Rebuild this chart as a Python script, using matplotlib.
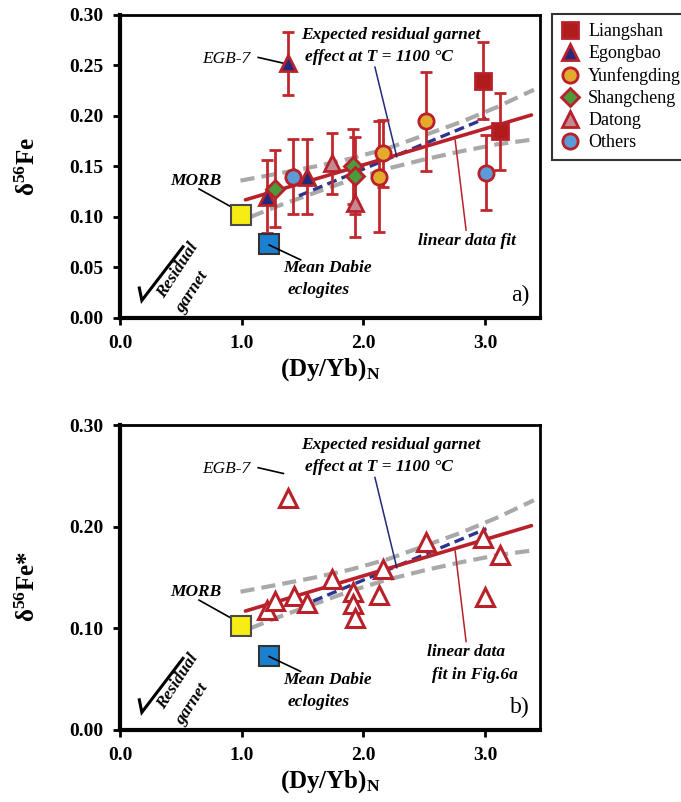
import numpy as np
import matplotlib
matplotlib.use('Agg')
import matplotlib.pyplot as plt
from matplotlib.lines import Line2D

plt.rcParams['font.family'] = ['Liberation Serif', 'DejaVu Serif']
plt.rcParams['mathtext.fontset'] = 'custom'
plt.rcParams['mathtext.rm'] = 'Liberation Serif'
plt.rcParams['mathtext.bf'] = 'Liberation Serif:bold'
plt.rcParams['mathtext.it'] = 'Liberation Serif:italic'

# --- data ---
# panel a: (Dy/Yb)N, d56Fe, 2SD
liang_x = [2.98, 3.12]
liang_y = [0.235, 0.185]
liang_e = [0.038, 0.038]
egong_x = [1.38, 1.21, 1.54]
egong_y = [0.252, 0.120, 0.140]
egong_e = [0.031, 0.036, 0.037]
yunf_x = [2.16, 2.13, 2.51]
yunf_y = [0.163, 0.140, 0.195]
yunf_e = [0.033, 0.055, 0.049]
shang_x = [1.27, 1.91, 1.93]
shang_y = [0.128, 0.150, 0.141]
shang_e = [0.038, 0.037, 0.038]
datong_x = [1.74, 1.93]
datong_y = [0.153, 0.114]
datong_e = [0.030, 0.034]
others_x = [1.42, 3.01]
others_y = [0.140, 0.144]
others_e = [0.037, 0.037]

# panel b: d56Fe* (corrected)
b_x = [1.38, 1.21, 1.27, 1.43, 1.54, 1.74, 1.91, 1.91, 1.93, 2.13, 2.16, 2.51, 2.98, 3.12, 3.00]
b_y = [0.228, 0.118, 0.127, 0.132, 0.125, 0.149, 0.136, 0.124, 0.110, 0.133, 0.158, 0.185, 0.189, 0.172, 0.131]

morb_x = [0.99]
morb_y = [0.102]
dabie_x = [1.22]
dabie_y = [0.073]

# linear fit and its confidence band
fit_x = [1.03, 3.38]
fit_y = [0.117, 0.201]
up_x = [0.99, 1.3, 1.6, 1.9, 2.2, 2.5, 2.8, 3.1, 3.40]
up_y = [0.136, 0.143, 0.150, 0.158, 0.168, 0.181, 0.194, 0.209, 0.226]
lo_x = [1.07, 1.3, 1.6, 1.9, 2.2, 2.5, 2.8, 3.1, 3.41]
lo_y = [0.100, 0.111, 0.124, 0.137, 0.148, 0.157, 0.165, 0.172, 0.177]
# expected residual garnet effect
garnet_x = [1.47, 3.01]
garnet_y = [0.121, 0.198]

RED = '#b8202a'
EBAR = '#c0282e'

fig = plt.figure(figsize=(6.81, 8.02), dpi=100)
W, H = 681., 802.
ax1 = fig.add_axes([120 / W, (H - 318) / H, 420 / W, 303 / H])
ax2 = fig.add_axes([120 / W, (H - 730) / H, 420 / W, 305 / H])


def common(ax, yticks, ylabel, tag, fit_label, lab_y):
    ax.plot(up_x, up_y, color='#a9a9a9', lw=3, dashes=(3.4, 1.7), zorder=2)
    ax.plot(lo_x, lo_y, color='#a9a9a9', lw=3, dashes=(3.4, 1.7), zorder=2)
    ax.plot(garnet_x, garnet_y, color='#2b3590', lw=2.4, dashes=(3, 1.6), zorder=2.5)
    ax.plot(fit_x, fit_y, color=RED, lw=2.6, solid_capstyle='round', zorder=3)
    ax.plot(morb_x, morb_y, 's', ms=15, mfc='#f7ec13', mec='#4a4a4a', mew=1.5, zorder=6)
    ax.plot(dabie_x, dabie_y, 's', ms=15, mfc='#1a80d0', mec='#333333', mew=1.5, zorder=6)

    ax.set_xlim(0, 3.45)
    ax.set_ylim(0, 0.30)
    ax.set_xticks([0, 1, 2, 3])
    ax.set_xticklabels(['0.0', '1.0', '2.0', '3.0'])
    ax.set_yticks(yticks)
    ax.set_yticklabels(['%.2f' % v for v in yticks])
    for s in ['left', 'bottom']:
        ax.spines[s].set_linewidth(3.0)
    for s in ['top', 'right']:
        ax.spines[s].set_linewidth(2.0)
    ax.tick_params(direction='out', length=5, width=2, labelsize=14, pad=7)
    for t in ax.get_xticklabels() + ax.get_yticklabels():
        t.set_fontweight('bold')
    ax.set_xlabel('(Dy/Yb)$_{\\mathbf{N}}$', fontsize=18, fontweight='bold')
    ax.xaxis.set_label_coords(0.5, -0.125)
    ax.set_ylabel(ylabel, fontsize=18, fontweight='bold')
    ax.yaxis.set_label_coords(-0.19, lab_y)

    bi = dict(fontsize=12.5, fontweight='bold', style='italic')
    # leader lines are drawn in axes fraction
    tr = ax.transAxes
    ax.text(0.431, 0.934, 'Expected residual garnet', ha='left', va='center', transform=tr, **bi)
    ax.text(0.441, 0.861, 'effect at T = 1100 \u00b0C', ha='left', va='center', transform=tr, **bi)
    ax.plot([0.607, 0.659], [0.828, 0.532], color='#1f2a7a', lw=1.1, transform=tr, zorder=4)
    ax.text(0.181, 0.452, 'MORB', ha='center', va='center', transform=tr, **bi)
    ax.plot([0.188, 0.280], [0.426, 0.355], color='k', lw=1.2, transform=tr, zorder=4)
    ax.text(0.495, 0.165, 'Mean Dabie', ha='center', va='center', transform=tr, **bi)
    ax.text(0.474, 0.092, 'eclogites', ha='center', va='center', transform=tr, **bi)
    ax.plot([0.355, 0.430], [0.241, 0.192], color='k', lw=1.2, transform=tr, zorder=7)
    for txt, (x, y) in zip(fit_label, [(0.825, 0.255), (0.845, 0.180)]):
        ax.text(x, y, txt, ha='center', va='center', transform=tr, **bi)
    ax.plot([0.798, 0.824], [0.587, 0.290], color=RED, lw=1.1, transform=tr, zorder=4)
    ax.text(0.31, 0.855, 'EGB-7', ha='right', va='center', fontsize=12.5,
            style='italic', transform=tr)
    ax.plot([0.329, 0.389], [0.860, 0.841], color='k', lw=1.2, transform=tr, zorder=4)

    # residual garnet arrow
    ax.plot([0.046, 0.052, 0.150], [0.099, 0.058, 0.235], color='k', lw=2.2,
            solid_joinstyle='miter', transform=tr, zorder=4)
    ax.text(0.138, 0.158, 'Residual', rotation=57, ha='center', va='center',
            transform=tr, **bi)
    ax.text(0.171, 0.086, 'garnet', rotation=57, ha='center', va='center',
            transform=tr, **bi)
    ax.text(0.952, 0.075, tag, ha='center', va='center', fontsize=17, transform=tr)


common(ax1, [0, 0.05, 0.10, 0.15, 0.20, 0.25, 0.30],
       '\u03b4$^{\\mathbf{56}}$Fe', 'a)', ['linear data fit'], 0.5)
common(ax2, [0, 0.10, 0.20, 0.30],
       '\u03b4$^{\\mathbf{56}}$Fe*', 'b)', ['linear data', 'fit in Fig.6a'], 0.47)

# panel a symbols with error bars
groups = [
    (liang_x, liang_y, liang_e, 's', 11, '#b01c1c', 'Liangshan'),
    (egong_x, egong_y, egong_e, '^', 11, '#232a7e', 'Egongbao'),
    (yunf_x, yunf_y, yunf_e, 'o', 11, '#e3aa2e', 'Yunfengding'),
    (shang_x, shang_y, shang_e, 'D', 9, '#4c9a3c', 'Shangcheng'),
    (datong_x, datong_y, datong_e, '^', 11, '#c48a94', 'Datong'),
    (others_x, others_y, others_e, 'o', 11, '#5d9ad8', 'Others'),
]
handles = []
for gx, gy, ge, mk, ms, fc, name in groups:
    ax1.errorbar(gx, gy, yerr=ge, fmt='none', ecolor=EBAR, elinewidth=2,
                 capsize=4, capthick=2, zorder=4)
    ax1.plot(gx, gy, mk, ms=ms, mfc=fc, mec=RED, mew=2, zorder=5)
    handles.append(Line2D([], [], ls='none', marker=mk, ms=ms, mfc=fc, mec=RED,
                          mew=2, label=name))

ax2.plot(b_x, b_y, '^', ms=13, mfc='white', mec=RED, mew=2.2, zorder=5)

leg = fig.legend(handles=handles, loc='upper left',
                 bbox_to_anchor=(552 / W, 1 - 14 / H), frameon=True,
                 fancybox=False, fontsize=13, handlelength=1.0,
                 handletextpad=0.5, labelspacing=0.28, borderpad=0.5,
                 borderaxespad=0)
leg.get_frame().set_edgecolor('black')
leg.get_frame().set_linewidth(1.5)

fig.savefig('out.png', dpi=100)
